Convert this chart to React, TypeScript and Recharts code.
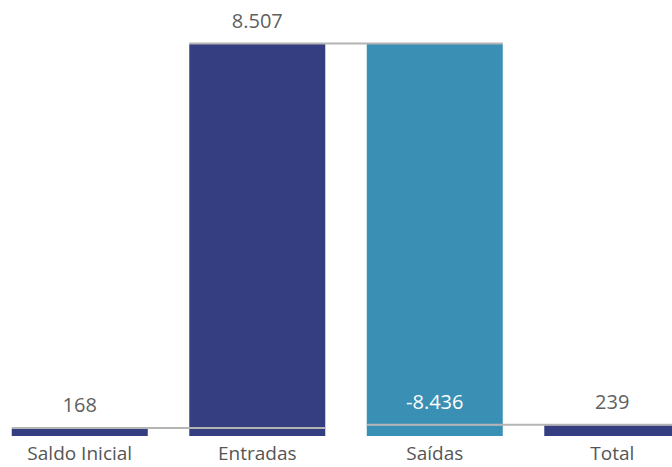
import { BarChart, Bar, XAxis, YAxis, LabelList, Cell } from "recharts";

const categories = ["Saldo Inicial", "Entradas", "Saídas", "Total"];
const changes = [168, 8507, -8436, 239];
const isTotal = [true, false, false, true];
const barColors = ["#343e80", "#343e80", "#3a8fb4", "#343e80"];

const GAP = 0.117;

// waterfall rows: transparent base + visible amount
let running = 0;
const data = categories.map((name, i) => {
  const v = changes[i];
  let base: number;
  let level: number;
  if (isTotal[i]) {
    base = 0;
    level = v;
  } else if (v >= 0) {
    base = running;
    level = running + v;
  } else {
    base = running + v;
    level = running + v;
  }
  running = level;
  return { name, base, amount: Math.abs(v), value: v, level, fill: barColors[i] };
});

const fmt = (v: number) =>
  (v < 0 ? "-" : "") + Math.abs(v).toString().replace(/\B(?=(\d{3})+(?!\d))/g, ".");

const font = "'Open Sans', 'Noto Sans', sans-serif";

const Connector = (props: any) => {
  const { x, y, width, height, index } = props;
  if (index >= data.length - 1) return null;
  const row = data[index];
  const ly = row.value < 0 ? y + height : y;
  const band = width / (1 - 2 * GAP);
  return (
    <line
      x1={x}
      x2={x + band + width}
      y1={ly - 0.5}
      y2={ly - 0.5}
      stroke="#b4b4b4"
      strokeWidth={2}
    />
  );
};

const ValueLabel = (props: any) => {
  const { x, y, width, height, index } = props;
  const row = data[index];
  const neg = row.value < 0;
  return (
    <text
      x={x + width / 2}
      y={neg ? y + height - 23.5 : y - 23.5}
      textAnchor="middle"
      dominantBaseline="central"
      fill={neg ? "#ffffff" : "#5f5f5f"}
      fontSize={20}
      fontFamily={font}
    >
      {fmt(row.value)}
    </text>
  );
};

export default function App() {
  return (
    <div style={{ width: 672, height: 467, overflow: "hidden", position: "relative" }}>
      <style>{"body{margin:0}"}</style>
      <div style={{ position: "absolute", left: -9, top: 0 }}>
        <BarChart
          width={710}
          height={480}
          data={data}
          margin={{ top: 44, right: 0, bottom: 13, left: 0 }}
          barCategoryGap={`${GAP * 100}%`}
        >
          <XAxis
            dataKey="name"
            axisLine={false}
            tickLine={false}
            height={31}
            tickMargin={5}
            tick={{ fill: "#555555", fontSize: 19, fontFamily: font }}
            interval={0}
          />
          <YAxis hide domain={[0, "dataMax"]} />
          <Bar dataKey="base" stackId="w" fill="transparent" isAnimationActive={false} />
          <Bar dataKey="amount" stackId="w" isAnimationActive={false}>
            {data.map((d) => (
              <Cell key={d.name} fill={d.fill} />
            ))}
            <LabelList dataKey="amount" content={<Connector />} />
            <LabelList dataKey="amount" content={<ValueLabel />} />
          </Bar>
        </BarChart>
      </div>
    </div>
  );
}
